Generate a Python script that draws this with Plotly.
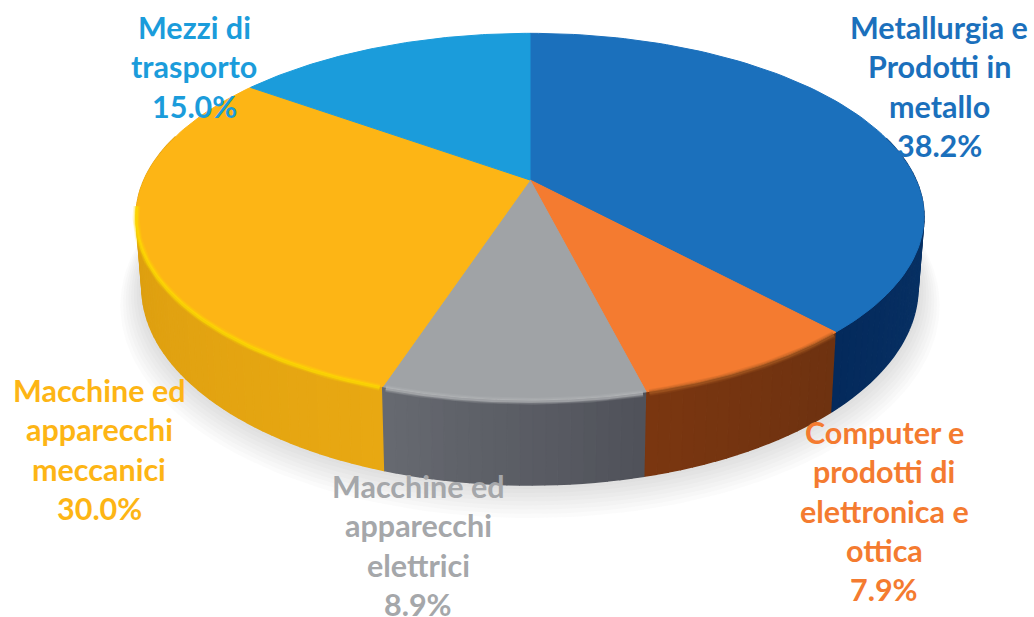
import numpy as np
import plotly.graph_objects as go

sectors = ["Metallurgia e Prodotti in metallo", "Computer e prodotti di elettronica e ottica",
           "Macchine ed apparecchi elettrici", "Macchine ed apparecchi meccanici", "Mezzi di trasporto"]
shares = [38.2, 7.9, 8.9, 30.0, 15.0]
top_colors = ["#1B70BC", "#F47B30", "#A0A3A6", "#FDB515", "#1B9CDB"]
side_from = ["#15497F", "#6E3210", "#50525A", "#E8A812", "#1B9CDB"]
side_to = ["#042A5C", "#7A3610", "#666970", "#D3960E", "#1B9CDB"]
rim_colors = [None, "#A85A22", "#B9BBBD", "#FFE000", None]
label_lines = [["Metallurgia e", "Prodotti in", "metallo", "38.2%"],
               ["Computer e", "prodotti di", "elettronica e", "ottica", "7.9%"],
               ["Macchine ed", "apparecchi", "elettrici", "8.9%"],
               ["Macchine ed", "apparecchi", "meccanici", "30.0%"],
               ["Mezzi di", "trasporto", "15.0%"]]
label_colors = ["#1B70BC", "#F47B30", "#A5A7AA", "#FDB515", "#1B9CDB"]
label_x = [939, 884, 418, 99, 194]
label_y = [27, 432, 486, 390, 27]
LINE = 39.3

CX, CY, R, RY, P, T, BOTTOM_SCALE = 530, 180, 386, 176, 0.2, 68, 0.985


def project(theta, depth=0.0, scale=1.0):
    """theta in degrees clockwise from 12 o'clock; depth is the drop below the top face."""
    a = np.radians(theta)
    X, Y = np.sin(a) * scale, np.cos(a) * scale
    s = 1 / (1 + P * Y)
    k = 1 - (1 - BOTTOM_SCALE) * depth / T
    return CX + R * X * s * k, CY + (-RY * Y + depth) * s


def mix(c1, c2, t):
    a = [int(c1[i:i + 2], 16) for i in (1, 3, 5)]
    b = [int(c2[i:i + 2], 16) for i in (1, 3, 5)]
    return "rgb(%d,%d,%d)" % tuple(round(u + (v - u) * t) for u, v in zip(a, b))


edges = np.concatenate([[0], np.cumsum(shares)]) * 3.6
fig = go.Figure()


def poly(x, y, color, opacity=1.0, lw=1.5):
    fig.add_trace(go.Scatter(x=list(x), y=list(y), mode="lines", fill="toself", fillcolor=color,
                             opacity=opacity, line=dict(color=color, width=lw), hoverinfo="skip",
                             showlegend=False))


# soft shadow under the disc
th = np.linspace(0, 360, 241)
for k in range(8, 0, -1):
    x, y = project(th, T + 1.6 * k, 1 + 0.007 * k)
    poly(x, y, "#808080", 0.035, 0)

# side wall, strip by strip, back to front
strips = []
for i in range(len(shares)):
    a0, a1 = edges[i], edges[i + 1]
    n = max(int((a1 - a0) / 1.5), 1)
    g = np.linspace(a0, a1, n + 1)
    for j in range(n):
        strips.append((np.cos(np.radians(g[j])), i, g[j], g[j + 1], j / max(n - 1, 1)))
strips = [s for s in strips if s[0] < 0.25]
strips.sort(key=lambda s: -s[0])
for _, i, b0, b1, t in strips:
    tt = np.array([b0, b1])
    xa, ya = project(tt)
    xb, yb = project(tt[::-1], T)
    poly(np.r_[xa, xb], np.r_[ya, yb], mix(side_from[i], side_to[i], t))

# top face
for i in range(len(shares)):
    tt = np.linspace(edges[i], edges[i + 1], 90)
    x, y = project(tt)
    poly(np.r_[CX, x, CX], np.r_[CY, y, CY], top_colors[i], lw=1)

# rim highlights, soft
for i in range(len(shares)):
    if rim_colors[i]:
        a0 = edges[i] + 0.4
        a1 = min(edges[i + 1] - 0.4, 262)
        tt = np.linspace(a0, a1, 80)
        x, y = project(tt, 1.0)
        for w, op in ((7, 0.18), (5, 0.25), (3, 0.55)):
            fig.add_trace(go.Scatter(x=x, y=y, mode="lines", opacity=op, hoverinfo="skip", showlegend=False,
                                     line=dict(color=rim_colors[i], width=w)))

annotations = []
for lines, lx, ly, col in zip(label_lines, label_x, label_y, label_colors):
    for n, txt in enumerate(lines):
        annotations.append(dict(x=lx, y=ly + n * LINE, text=txt, showarrow=False, xanchor="center",
                                yanchor="middle", font=dict(family="Lato", size=30.5, color=col, weight="bold")))

fig.update_layout(width=1034, height=617, margin=dict(l=0, r=0, t=0, b=0), paper_bgcolor="white",
                  plot_bgcolor="white", showlegend=False, annotations=annotations,
                  xaxis=dict(range=[0, 1034], visible=False, fixedrange=True),
                  yaxis=dict(range=[617, 0], visible=False, fixedrange=True))
fig.write_html("out.html", config=dict(displayModeBar=False),
               post_script="document.body.style.margin='0';document.documentElement.style.overflow='hidden';")
